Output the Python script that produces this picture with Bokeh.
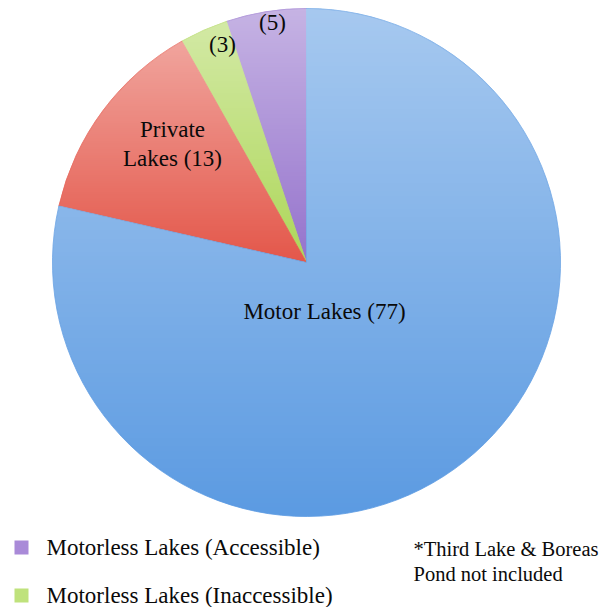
import numpy as np
from bokeh.plotting import figure
from bokeh.models import Range1d
from bokeh.core.properties import value
from bokeh.embed import file_html
from bokeh.resources import INLINE

# Lake counts by category (slices run anticlockwise from 12 o'clock)
categories = ["Motorless Lakes (Accessible)", "Motorless Lakes (Inaccessible)",
              "Private Lakes", "Motor Lakes"]
counts = [5, 3, 13, 77]
slice_labels = [["(5)"], ["(3)"], ["Private", "Lakes (13)"], ["Motor Lakes (77)"]]
slice_colors = ["#9674cd", "#aed75a", "#e4584b", "#5c9be2"]
legend_colors = ["#a98ad8", "#bfe27c"]
legend_items = categories[:2]
note_lines = ["*Third Lake & Boreas", "Pond not included"]

W, H = 612, 607
FONT = value("Liberation Serif")

p = figure(width=W, height=H, x_range=Range1d(0, W), y_range=Range1d(0, H),
           x_axis_type=None, y_axis_type=None, toolbar_location=None,
           output_backend="svg", min_border=0)
p.grid.visible = False
p.outline_line_color = None
p.background_fill_color = "white"
p.border_fill_color = "white"

# pie geometry (data units == pixels, y measured upward)
cx, cy, R = 306, H - 262, 254
total = float(sum(counts))
edges = np.cumsum([0] + counts) / total * 2 * np.pi
start = np.pi / 2 + edges[:-1]
end = np.pi / 2 + edges[1:]

p.wedge(x=cx, y=cy, radius=R, start_angle=list(start), end_angle=list(end),
        direction="anticlock", fill_color=slice_colors, line_color=slice_colors,
        line_width=0.8)

# per-slice vertical light sheen: white fading from slice top to slice bottom
ys, xs = np.mgrid[0:H, 0:W]
px, py = xs + 0.5, ys + 0.5
dx, dy = px - cx, py - cy
rr = np.hypot(dx, dy)
ang = (np.arctan2(dy, dx) - np.pi / 2) % (2 * np.pi)
idx = np.searchsorted(edges, ang, side="right") - 1
cover = np.clip(R + 0.5 - rr, 0, 1)
alpha = np.zeros((H, W))
for k in range(len(counts)):
    m = (rr <= R + 0.5) & (idx == k)
    if m.any():
        top, bot = py[m].max(), py[m].min()
        alpha[m] = 0.46 * (py[m] - bot) / max(top - bot, 1)
alpha *= cover
rgba = np.zeros((H, W, 4), dtype=np.uint8)
rgba[..., :3] = 255
rgba[..., 3] = (alpha * 255).astype(np.uint8)
img = rgba.view(dtype=np.uint32).reshape(H, W)
p.image_rgba(image=[img], x=0, y=0, dw=W, dh=H)

# slice labels (anchor points in pixels from the top-left)
label_pos = [(272, 22), (222, 44), (172, 143), (324, 311)]
lx, ly, lt = [], [], []
for lines, (x0, y0) in zip(slice_labels, label_pos):
    n = len(lines)
    for j, t in enumerate(lines):
        lx.append(x0)
        ly.append(H - (y0 + (j - (n - 1) / 2) * 29))
        lt.append(t)
p.text(x=lx, y=ly, text=lt, text_font=FONT, text_font_size="23px",
       text_color="#0a0a0a", text_align="center", text_baseline="middle")

# legend squares and entries
leg_y = [H - 547, H - 595]
p.rect(x=[21] * 2, y=leg_y, width=14, height=14, fill_color=legend_colors,
       line_color=None)
p.text(x=[46] * 2, y=leg_y, text=legend_items, text_font=FONT,
       text_font_size="23px", text_color="#0a0a0a", text_align="left",
       text_baseline="middle")

# footnote
p.text(x=[413] * 2, y=[H - 548, H - 573], text=note_lines, text_font=FONT,
       text_font_size="20.5px", text_color="#0a0a0a", text_align="left",
       text_baseline="middle")

open("out.html", "w").write(file_html(p, INLINE))
